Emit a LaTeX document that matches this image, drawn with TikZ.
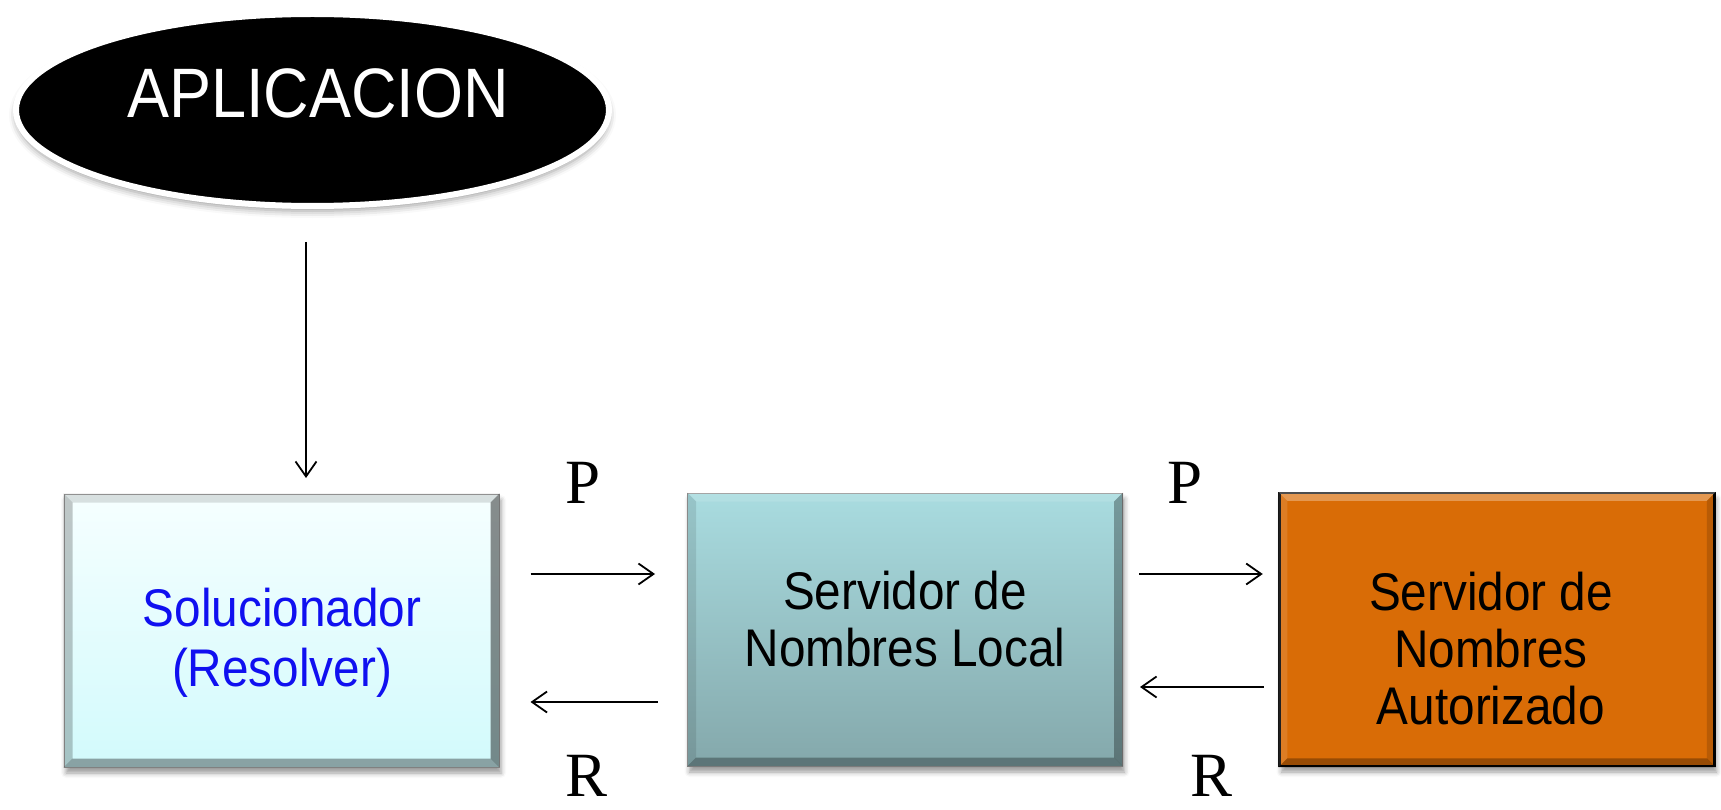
\documentclass[tikz,border=0pt]{standalone}
\usepackage{fontspec}
\setmainfont[FakeStretch=0.9]{Liberation Sans}
\newfontfamily\serifP{Liberation Serif}
\usetikzlibrary{arrows.meta}
\usetikzlibrary{calc}
\usetikzlibrary{shapes.geometric}
\usetikzlibrary{shadows.blur}

\definecolor{solTop}{HTML}{F6FFFF}
\definecolor{solBot}{HTML}{D2FAFC}
\definecolor{locTop}{HTML}{A9DCE0}
\definecolor{locBot}{HTML}{84A8AB}
\definecolor{autFill}{HTML}{D96C06}
\definecolor{txtBlue}{HTML}{1010F0}

% bevel edges of a box: node, top, left, right, bottom
\newcommand{\bevel}[5]{%
  \fill[#2] (#1.north west) -- (#1.north east) -- ($(#1.north east)+(-9,9)$) -- ($(#1.north west)+(9,9)$) -- cycle;
  \fill[#3] (#1.north west) -- (#1.south west) -- ($(#1.south west)+(9,-9)$) -- ($(#1.north west)+(9,9)$) -- cycle;
  \fill[#4] (#1.north east) -- (#1.south east) -- ($(#1.south east)+(-9,-9)$) -- ($(#1.north east)+(-9,9)$) -- cycle;
  \fill[#5] (#1.south west) -- (#1.south east) -- ($(#1.south east)+(-9,-9)$) -- ($(#1.south west)+(9,-9)$) -- cycle;}

\begin{document}
\begin{tikzpicture}[x=1pt,y=1pt,yscale=-1,xscale=1,
  box/.style={rectangle,minimum width=435pt,minimum height=273pt,inner sep=0pt,
    blur shadow={shadow xshift=2pt,shadow yshift=-6pt,shadow blur radius=5pt}},
  boxtext/.style={align=center,inner sep=0pt,font=\fontsize{53}{57}\selectfont},
  letra/.style={inner sep=0pt,font=\serifP\fontsize{63}{70}\selectfont},
  arr/.style={-{Straight Barb[length=15pt,width=21pt,line width=1.8pt]},line width=1.8pt}]
\useasboundingbox (0,0) rectangle (1721,810);

%Shape: Ellipse [app]
\node[ellipse,draw=white,line width=6pt,fill=black,minimum width=593pt,minimum height=192pt,
  blur shadow={shadow xshift=0pt,shadow yshift=-5pt,shadow blur radius=7pt}] (app) at (312.5,110) {};
% Text Node
\node[inner sep=0pt,text=white,font=\fontsize{70}{80}\selectfont] (apptxt) at (318,93) {APLICACION};

%Shape: Rectangle [sol]
\node[box,top color=solTop,bottom color=solBot,draw=gray!70,line width=1pt] (sol) at (281.5,630.5) {};
\bevel{sol}{black,opacity=.12}{black,opacity=.22}{black,opacity=.45}{black,opacity=.35}
%Shape: Rectangle [loc]
\node[box,top color=locTop,bottom color=locBot,draw=gray!80,line width=1pt] (loc) at (905,629.5) {};
\bevel{loc}{white,opacity=.12}{black,opacity=.1}{black,opacity=.3}{black,opacity=.3}
%Shape: Rectangle [aut]
\node[box,fill=autFill,draw=black,line width=2.5pt] (aut) at (1497,629.5) {};
\bevel{aut}{white,opacity=.3}{white,opacity=.12}{black,opacity=.15}{black,opacity=.3}

% Text Node
\node[boxtext,text=txtBlue,font=\fontsize{53}{60}\selectfont] (soltxt) at (282,643) {Solucionador\\(Resolver)};
% Text Node
\node[boxtext] (loctxt) at (905,619) {Servidor de\\Nombres Local};
% Text Node
\node[boxtext] (auttxt) at (1491,649) {Servidor de\\Nombres\\ Autorizado};

% Text Node
\node[letra] (p1) at (583,483) {P};
% Text Node
\node[letra] (p2) at (1185,483) {P};
% Text Node
\node[letra] (r1) at (587,776) {R};
% Text Node
\node[letra] (r2) at (1211,776) {R};

%Straight Lines
\draw[arr] ($(app.south)+(-6.5,33)$) -- ($(sol.north)+(24.5,-15.5)$);
\draw[arr] ($(sol.east)+(31,-56.5)$) -- ($(loc.west)+(-32,-55.5)$);
\draw[arr] ($(loc.west)+(-29.5,72.5)$) -- ($(sol.east)+(31,71.5)$);
\draw[arr] ($(loc.east)+(16,-55.5)$) -- ($(aut.west)+(-15.5,-55.5)$);
\draw[arr] ($(aut.west)+(-14.5,57.5)$) -- ($(loc.east)+(17,57.5)$);

\end{tikzpicture}
\end{document}
